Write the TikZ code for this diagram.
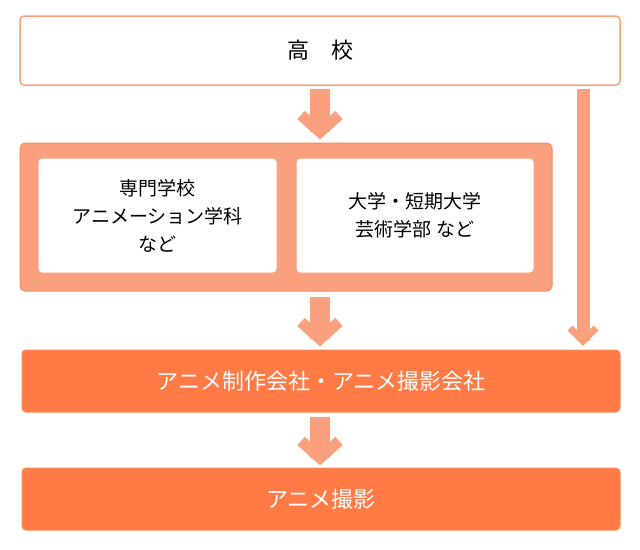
\documentclass[tikz,border=0pt]{standalone}
\usepackage{fontspec}
\newfontfamily\jp{Noto Sans CJK JP}
\begin{document}
\definecolor{lite}{HTML}{FBA07E}
\definecolor{dark}{HTML}{FF7A45}
\definecolor{edge}{HTML}{F58C5E}
\begin{tikzpicture}[x=1pt,y=-1pt,font=\jp\fontsize{19}{28}\selectfont,
  wbox/.style={draw=lite,line width=1.5pt,fill=white,rounded corners=4pt,inner sep=0},
  obox/.style={draw=edge,line width=1pt,fill=dark,rounded corners=4pt,text=white,inner sep=0,font=\jp\fontsize{22}{28}\selectfont},
  cbox/.style={draw=edge,line width=1pt,fill=lite,rounded corners=5pt,inner sep=0},
  shaft/.style={draw=lite,line width=20pt},
  chev/.style={draw=lite,line width=11pt,miter limit=10},
  shaft2/.style={draw=lite,line width=13pt},
  chev2/.style={draw=lite,line width=7pt,miter limit=10}]
\useasboundingbox (0,0) rectangle (640,549);
\node[wbox,minimum width=600pt,minimum height=69pt,font=\jp\fontsize{22}{28}\selectfont] (hs) at (320,50.5) {高\quad 校};
\node[cbox,minimum width=532pt,minimum height=148pt] (mid) at (286,217) {};
\node[wbox,line width=1pt,minimum width=239pt,minimum height=115pt,align=center] (sen) at (157.5,215.5) {専門学校\\アニメーション学科\\など};
\node[wbox,line width=1pt,minimum width=238pt,minimum height=115pt,align=center] (dai) at (415,215.5) {大学・短期大学\\芸術学部 など};
\node[obox,minimum width=598pt,minimum height=62pt] (co) at (321,381) {アニメ制作会社・アニメ撮影会社};
\node[obox,minimum width=598pt,minimum height=62pt] (sa) at (321,499) {アニメ撮影};
% arrows
\coordinate (t1) at (320,132); \coordinate (t2) at (320,339); \coordinate (t3) at (320,458);
\draw[shaft] (320,89) -- (t1);
\draw[chev] (301,115) -- (t1) -- (339,115);
\draw[shaft] (320,297) -- (t2);
\draw[chev] (301,322) -- (t2) -- (339,322);
\draw[shaft] (320,417) -- (t3);
\draw[chev] (301,441) -- (t3) -- (339,441);
\coordinate (t4) at (583,341);
\draw[shaft2] (583,89) -- (t4);
\draw[chev2] (570,328) -- (t4) -- (596,328);
\end{tikzpicture}
\end{document}
